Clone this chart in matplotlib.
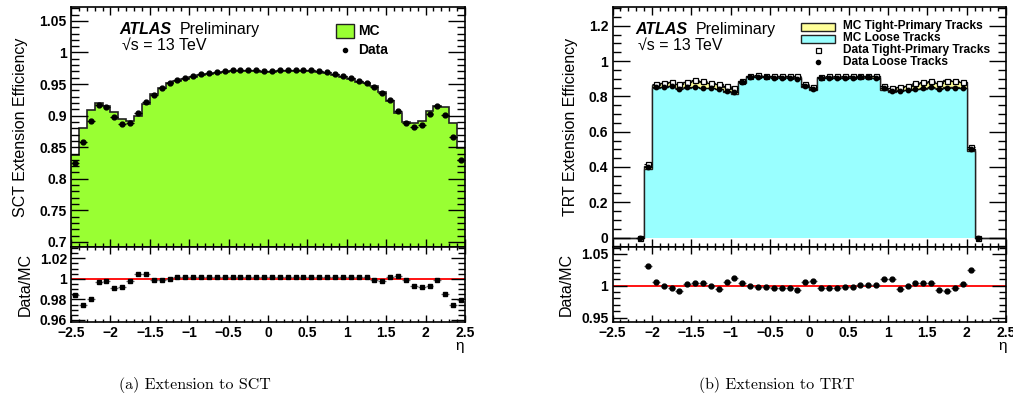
import numpy as np
import matplotlib
matplotlib.use("Agg")
import matplotlib.pyplot as plt
from matplotlib.ticker import MultipleLocator, NullFormatter, FuncFormatter
from matplotlib.patches import Rectangle
from matplotlib.lines import Line2D

plt.rcParams['font.family'] = ['Liberation Sans', 'DejaVu Sans']

# eta binning: 50 bins of width 0.1 between -2.5 and 2.5
eta_edges = np.round(np.linspace(-2.5, 2.5, 51), 2)
eta_centres = 0.5 * (eta_edges[:-1] + eta_edges[1:])

# ---- SCT extension efficiency ----
sct_mc = [0.838, 0.880, 0.909, 0.920, 0.915, 0.906, 0.894, 0.891, 0.900, 0.918,
          0.934, 0.944, 0.951, 0.955, 0.958, 0.961, 0.964, 0.966, 0.968, 0.969,
          0.970, 0.970, 0.970, 0.970, 0.969, 0.969, 0.970, 0.970, 0.970, 0.970,
          0.970, 0.969, 0.967, 0.964, 0.961, 0.958, 0.954, 0.951, 0.947, 0.938,
          0.923, 0.904, 0.890, 0.888, 0.892, 0.908, 0.916, 0.914, 0.889, 0.848]
sct_data = [0.8251, 0.8576, 0.8908, 0.9169, 0.9132, 0.8977, 0.8866, 0.8888, 0.9039, 0.9219,
            0.9331, 0.9431, 0.9513, 0.9564, 0.9599, 0.9624, 0.9654, 0.9674, 0.9695, 0.9705,
            0.9715, 0.9715, 0.9715, 0.9715, 0.9705, 0.9709, 0.9719, 0.9715, 0.9719, 0.9719,
            0.9715, 0.9705, 0.9684, 0.9654, 0.9624, 0.9599, 0.9554, 0.9524, 0.9461, 0.9357,
            0.9244, 0.9067, 0.8891, 0.8822, 0.8849, 0.9021, 0.9151, 0.9007, 0.8663, 0.8302]

# ---- TRT extension efficiency ----
nan = np.nan
trt_mc_tight = [0, 0, 0, 0, 0.405,
                0.862, 0.874, 0.880, 0.872, 0.880, 0.886, 0.882, 0.876, 0.870, 0.853,
                0.840, 0.887, 0.914, 0.918, 0.914, 0.913, 0.913, 0.913, 0.912, 0.862,
                0.846, 0.910, 0.911, 0.912, 0.912, 0.913, 0.913, 0.914, 0.913, 0.850,
                0.838, 0.853, 0.858, 0.870, 0.878, 0.883, 0.878, 0.890, 0.888, 0.880,
                0.503, 0, 0, 0, 0]
trt_mc_loose = [0, 0, 0, 0, 0.390,
                0.847, 0.855, 0.861, 0.846, 0.849, 0.851, 0.845, 0.845, 0.844, 0.827,
                0.816, 0.877, 0.908, 0.910, 0.909, 0.908, 0.908, 0.907, 0.906, 0.853,
                0.837, 0.904, 0.905, 0.906, 0.906, 0.907, 0.906, 0.906, 0.904, 0.836,
                0.823, 0.834, 0.835, 0.839, 0.844, 0.848, 0.846, 0.855, 0.852, 0.845,
                0.490, 0, 0, 0, 0]
trt_data_tight = [nan, nan, nan, 0.0, 0.415,
                  0.868, 0.877, 0.881, 0.870, 0.883, 0.891, 0.885, 0.877, 0.868, 0.857,
                  0.847, 0.889, 0.915, 0.921, 0.915, 0.915, 0.915, 0.915, 0.913, 0.868,
                  0.851, 0.911, 0.913, 0.913, 0.913, 0.914, 0.915, 0.916, 0.915, 0.858,
                  0.845, 0.851, 0.858, 0.874, 0.883, 0.887, 0.874, 0.887, 0.887, 0.883,
                  0.512, 0.0, nan, nan, nan]
trt_data_loose = [nan, nan, nan, 0.0, 0.4023,
                  0.8515, 0.8550, 0.8582, 0.8397, 0.8512, 0.8550, 0.8490, 0.8450, 0.8395, 0.8322,
                  0.8255, 0.8802, 0.9080, 0.9076, 0.9072, 0.9053, 0.9053, 0.9034, 0.8997, 0.8581,
                  0.8429, 0.9013, 0.9023, 0.9033, 0.9042, 0.9052, 0.9069, 0.9069, 0.9049, 0.8448,
                  0.8316, 0.8298, 0.8350, 0.8432, 0.8482, 0.8514, 0.8401, 0.8482, 0.8494, 0.8467,
                  0.5018, 0.0, nan, nan, nan]

GREEN = '#99ff33'
CYAN = '#99ffff'
YELLOW = '#ffff99'

W, H = 1013, 407
fig = plt.figure(figsize=(W / 100, H / 100), dpi=100)


def box(x0, y0, x1, y1):
    """Axes rectangle from pixel corners (top-left origin)."""
    return [x0 / W, 1 - y1 / H, (x1 - x0) / W, (y1 - y0) / H]


def fx(x):
    return x / W


def fy(y):
    return 1 - y / H


def fmt(v, pos=None):
    s = ('%.3f' % v).rstrip('0').rstrip('.')
    if s in ('-0', '0'):
        s = '0'
    return s.replace('-', '\u2212')


def root_style(ax, ymaj, ymin, ylen, xlen, xlabels):
    ax.set_xlim(-2.5, 2.5)
    ax.xaxis.set_major_locator(MultipleLocator(0.5))
    ax.xaxis.set_minor_locator(MultipleLocator(0.1))
    ax.yaxis.set_major_locator(MultipleLocator(ymaj))
    ax.yaxis.set_minor_locator(MultipleLocator(ymin))
    ax.tick_params(axis='both', which='both', direction='in', top=True, right=True,
                   width=1.0, labelsize=10, pad=3)
    ax.tick_params(axis='y', which='major', length=ylen)
    ax.tick_params(axis='y', which='minor', length=ylen / 2)
    ax.tick_params(axis='x', which='major', length=xlen)
    ax.tick_params(axis='x', which='minor', length=xlen / 2)
    ax.yaxis.set_major_formatter(FuncFormatter(fmt))
    ax.xaxis.set_major_formatter(FuncFormatter(fmt) if xlabels else NullFormatter())
    for lab in ax.get_xticklabels() + ax.get_yticklabels():
        lab.set_fontweight('bold')
    for s in ax.spines.values():
        s.set_linewidth(1.2)


def atlas_label(x, y):
    fig.text(fx(x), fy(y), 'ATLAS', fontsize=11.5, fontweight='bold',
             fontstyle='italic', va='baseline')
    fig.text(fx(x + 61), fy(y), 'Preliminary', fontsize=11.5, va='baseline')
    fig.text(fx(x + 3), fy(y + 16), '\u221As = 13 TeV', fontsize=11.5, va='baseline')


# ================= left: SCT =================
axm = fig.add_axes(box(71, 7, 465, 247))
axr = fig.add_axes(box(71, 247, 465, 322))

axm.stairs(sct_mc, eta_edges, baseline=0.0, fill=True, color=GREEN, lw=0)
axm.stairs(sct_mc, eta_edges, baseline=None, color='#222222', lw=1.2)
axm.errorbar(eta_centres, sct_data, xerr=0.05, fmt='o', ms=3.5, color='black',
             elinewidth=0.9, capsize=0)
axm.set_ylim(0.692, 1.072)
root_style(axm, 0.05, 0.01, 12, 6, False)
axm.set_ylabel('SCT Extension Efficiency', fontsize=11.5, labelpad=8)

sct_ratio = np.array(sct_data) / np.array(sct_mc)
axr.axhline(1.0, color='red', lw=1.3, zorder=1)
axr.errorbar(eta_centres, sct_ratio, xerr=0.05, fmt='s', ms=3.3, color='black',
             ecolor='#666666', elinewidth=0.9, capsize=0, zorder=3)
axr.set_ylim(0.958, 1.031)
root_style(axr, 0.02, 0.005, 10, 5, True)
axr.set_ylabel('Data/MC', fontsize=11.5, labelpad=5)
fig.text(fx(460), fy(346), '\u03b7', fontsize=11, ha='center', va='center')

atlas_label(119, 34)

# legend (left)
fig.patches.append(Rectangle((fx(336), fy(38)), 18 / W, 14 / H, transform=fig.transFigure,
                             facecolor=GREEN, edgecolor='#222222', lw=1.0))
fig.text(fx(358), fy(31), 'MC', fontsize=10, fontweight='bold', va='center')
fig.lines.append(Line2D([fx(345)], [fy(50)], transform=fig.transFigure, marker='o',
                        ms=3, color='black', ls='none'))
fig.text(fx(358), fy(50), 'Data', fontsize=10, fontweight='bold', va='center')

# ================= right: TRT =================
bxm = fig.add_axes(box(612.5, 7, 1006, 247))
bxr = fig.add_axes(box(612.5, 247, 1006, 322))

bxm.stairs(trt_mc_tight, eta_edges, baseline=0.0, fill=True, color=YELLOW, lw=0)
bxm.stairs(trt_mc_tight, eta_edges, baseline=None, color='#222222', lw=1.0)
bxm.stairs(trt_mc_loose, eta_edges, baseline=0.0, fill=True, color=CYAN, lw=0)
bxm.stairs(trt_mc_loose, eta_edges, baseline=None, color='#222222', lw=1.0)
bxm.errorbar(eta_centres, trt_data_tight, xerr=0.05, fmt='s', ms=3.6, mfc='white',
             mec='black', mew=0.9, color='black', elinewidth=0.8, capsize=0)
bxm.errorbar(eta_centres, trt_data_loose, xerr=0.05, fmt='o', ms=3.2, color='black',
             elinewidth=0.8, capsize=0)
bxm.set_ylim(-0.053, 1.306)
root_style(bxm, 0.2, 0.05, 12, 6, False)
bxm.set_ylabel('TRT Extension Efficiency', fontsize=11.5, labelpad=8)

trt_ratio = np.array(trt_data_loose) / np.where(np.array(trt_mc_loose) > 0,
                                                 np.array(trt_mc_loose), np.nan)
bxr.axhline(1.0, color='red', lw=1.3, zorder=1)
bxr.errorbar(eta_centres, trt_ratio, xerr=0.05, fmt='o', ms=3.5, color='black',
             ecolor='#555555', elinewidth=0.9, capsize=0, zorder=3)
bxr.set_ylim(0.943, 1.061)
root_style(bxr, 0.05, 0.01, 10, 5, True)
bxr.set_ylabel('Data/MC', fontsize=11.5, labelpad=5)
fig.text(fx(1003), fy(346), '\u03b7', fontsize=11, ha='center', va='center')

atlas_label(635, 34)

# legend (right)
fig.patches.append(Rectangle((fx(801), fy(31)), 34 / W, 8 / H, transform=fig.transFigure,
                             facecolor=YELLOW, edgecolor='#222222', lw=1.0))
fig.patches.append(Rectangle((fx(801), fy(43)), 34 / W, 8 / H, transform=fig.transFigure,
                             facecolor=CYAN, edgecolor='#222222', lw=1.0))
fig.lines.append(Line2D([fx(818)], [fy(50)], transform=fig.transFigure, marker='s',
                        ms=3.6, mfc='white', mec='black', mew=0.9, ls='none'))
fig.lines.append(Line2D([fx(818)], [fy(62)], transform=fig.transFigure, marker='o',
                        ms=3, color='black', ls='none'))
for y, txt in [(26, 'MC Tight-Primary Tracks'), (38, 'MC Loose Tracks'),
               (50, 'Data Tight-Primary Tracks'), (62, 'Data Loose Tracks')]:
    fig.text(fx(843), fy(y), txt, fontsize=8.6, fontweight='bold', va='center')

# sub-figure captions
fig.text(fx(195), fy(385), '(a) Extension to SCT', family='cmr10', fontsize=11.5,
         ha='center', va='center')
fig.text(fx(777), fy(385), '(b) Extension to TRT', family='cmr10', fontsize=11.5,
         ha='center', va='center')

fig.savefig('out.png', dpi=100)
